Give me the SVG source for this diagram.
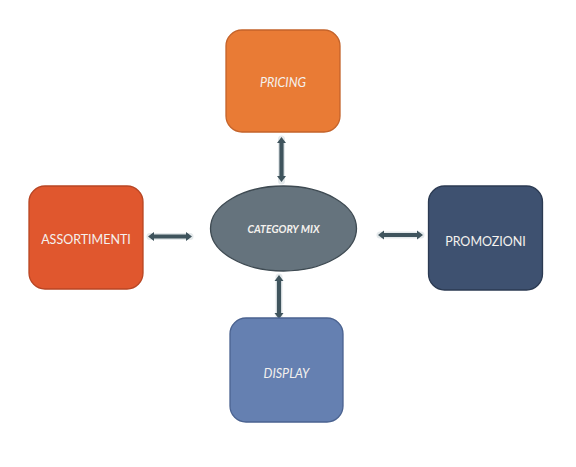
<svg xmlns="http://www.w3.org/2000/svg" width="576" height="467" viewBox="0 0 576 467">
<defs>
<style>
.box{stroke-width:1.3}
.lbl{font-family:Lato,"Open Sans","Liberation Sans",sans-serif;font-size:12.5px;fill:#F4F1EE;text-anchor:middle;dominant-baseline:central}
.it{font-style:italic}
.glow{stroke:#DDE3E6;stroke-width:7;stroke-linecap:round;fill:none;opacity:0.8}
.arr{fill:#3F545D}
</style>
</defs>
<rect width="576" height="467" fill="#FFFFFF"/>
<g id="connectors">
<g id="c-top">
<line class="glow" x1="281.5" y1="139" x2="281.5" y2="181"/>
<path class="arr" d="M281.5,137 L286,143 L283.6,143 L283.6,176 L286,176 L281.5,182 L277,176 L279.4,176 L279.4,143 L277,143 Z"/>
</g>
<g id="c-bottom">
<line class="glow" x1="279" y1="277" x2="279" y2="318"/>
<path class="arr" d="M279,275 L283.5,281 L281.1,281 L281.1,313 L283.5,313 L279,319 L274.5,313 L276.9,313 L276.9,281 L274.5,281 Z"/>
</g>
<g id="c-right">
<line class="glow" x1="380" y1="235" x2="421" y2="235"/>
<path class="arr" d="M378,235 L384,230.5 L384,232.9 L417,232.9 L417,230.5 L423,235 L417,239.5 L417,237.1 L384,237.1 L384,239.5 Z"/>
</g>
<g id="c-left">
<line class="glow" x1="150" y1="236.5" x2="190" y2="236.5"/>
<path class="arr" d="M148,236.5 L154,232 L154,234.4 L186,234.4 L186,232 L192,236.5 L186,241 L186,238.6 L154,238.6 L154,241 Z"/>
</g>
</g>
<g id="pricing">
<rect class="box" x="226" y="30" width="114" height="102" rx="16" fill="#E97B35" stroke="#C4632A"/>
<text class="lbl it" x="283" y="82">PRICING</text>
</g>
<g id="assortimenti">
<rect class="box" x="29" y="186" width="114" height="103" rx="16" fill="#E0572E" stroke="#B84523"/>
<text class="lbl" x="86" y="239">ASSORTIMENTI</text>
</g>
<g id="promozioni">
<rect class="box" x="428.5" y="186" width="114" height="104" rx="16" fill="#3E5170" stroke="#2B3A52"/>
<text class="lbl" x="485.5" y="241">PROMOZIONI</text>
</g>
<g id="display">
<rect class="box" x="230" y="318" width="113" height="104" rx="16" fill="#6580B1" stroke="#4A6290"/>
<text class="lbl it" x="286.5" y="373">DISPLAY</text>
</g>
<g id="category-mix">
<ellipse cx="283.5" cy="228.5" rx="73" ry="42.5" fill="#65737D" stroke="#3E4A52" stroke-width="1.3"/>
<text class="lbl it" x="283.5" y="229" style="font-size:10.5px;font-weight:bold">CATEGORY MIX</text>
</g>
</svg>
